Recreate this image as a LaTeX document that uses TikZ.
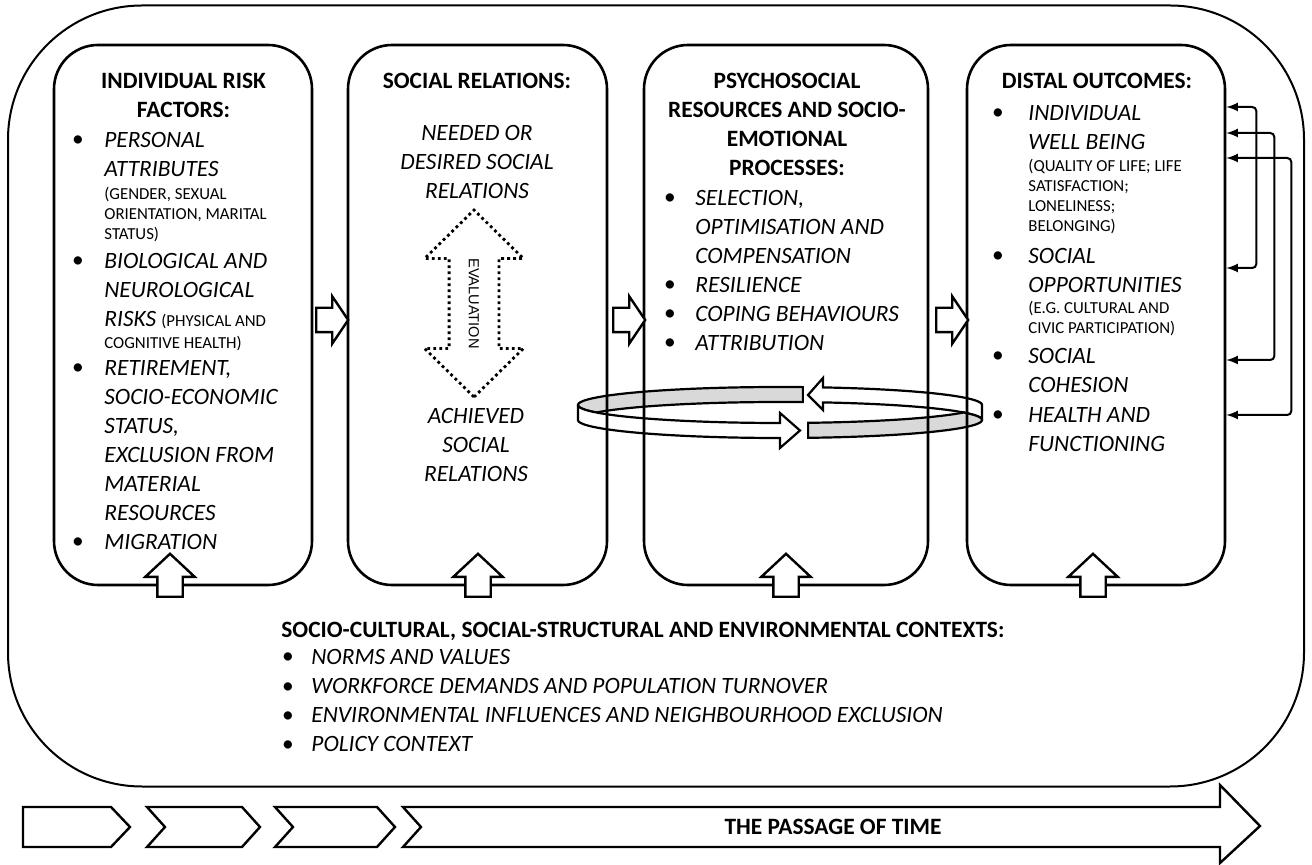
\documentclass[tikz,border=0pt]{standalone}
\usepackage{fontspec}
\setmainfont{Carlito}
\newfontfamily\evalfont{Liberation Sans}
\usepackage{tikz}
\usetikzlibrary{arrows,shapes.arrows}
\newcommand{\bigf}{\fontsize{11.7}{14.5}\selectfont}
\newcommand{\smf}{\fontsize{8.4}{10.1}\selectfont}

\begin{document}
\begin{tikzpicture}[x=0.5pt,y=-0.5pt,
  panel/.style={draw,line width=1.3pt,rounded corners=22pt,minimum width=129pt,minimum height=270pt},
  hd/.style={font=\bigf\bfseries,align=center,inner sep=0pt,anchor=north},
  itm/.style={font=\bigf\itshape,align=left,inner sep=0pt,anchor=north west},
  sm/.style={font=\smf,align=left,inner sep=0pt,anchor=north west},
  dot/.style={font=\bigf,inner sep=0pt,anchor=base},
  fat/.style={single arrow,draw,fill=white,line width=1.2pt,inner sep=0pt,text height=5.5pt,text depth=5.5pt,minimum height=16pt,single arrow head extend=5.75pt,single arrow tip angle=112,anchor=tail},
  up/.style={fat,rotate=90,minimum height=21.5pt,single arrow head extend=6pt,single arrow tip angle=94,text height=5.75pt,text depth=5.75pt},
  band/.style={draw,line width=1.1pt},
  chev/.style={draw,line width=1.2pt,fill=white},
  fbk/.style={latex-latex,line width=1pt,rounded corners=2pt}]
\useasboundingbox (0,0) rectangle (1312,865);

\node (world) at (656,396)[draw,line width=1pt,rounded corners=67pt,minimum width=648pt,minimum height=390.5pt] {};

\draw[band,fill=black!15] plot[domain=-83.5:-204.6,samples=60] ({780+202*cos(\x)},{405+18*sin(\x)}) -- plot[domain=-155.4:-83.5,samples=50] ({780+202*cos(\x)},{420+18*sin(\x)}) -- cycle;
\draw[band,fill=white] plot[domain=180:90,samples=50] ({780+202*cos(\x)},{405+18*sin(\x)}) -- (780,413) -- (800,430.5) -- (780,448) -- (780,438) -- plot[domain=90:180,samples=50] ({780+202*cos(\x)},{420+18*sin(\x)}) -- cycle;
\draw[band,fill=white] plot[domain=-77.7:0,samples=50] ({780+202*cos(\x)},{405+18*sin(\x)}) -- plot[domain=0:-77.7,samples=50] ({780+202*cos(\x)},{420+18*sin(\x)}) -- (823,410) -- (808,395) -- (823,378) -- cycle;
\draw[band,fill=black!15] plot[domain=82:-24.6,samples=60] ({780+202*cos(\x)},{420+18*sin(\x)}) -- plot[domain=24.6:82,samples=50] ({780+202*cos(\x)},{405+18*sin(\x)}) -- cycle;

\node (risk) at (183,315)[panel] {};
\node (rel) at (477.5,315)[panel,minimum width=129.5pt] {};
\node (psy) at (786,315)[panel,minimum width=142pt] {};
\node (dist) at (1096,315)[panel] {};

\node (riskhd) at (183.5,73)[hd] {INDIVIDUAL RISK\\FACTORS:};
\node (b11) at (78,147)[dot] {\textbullet};
\node (r1) at (104,132)[itm] {PERSONAL\\ATTRIBUTES};
\node (r1s) at (104,186.5)[sm] {(GENDER, SEXUAL\\ORIENTATION, MARITAL\\STATUS)};
\node (b12) at (78,268)[dot] {\textbullet};
\node (r2) at (104,253)[itm] {BIOLOGICAL AND\\NEUROLOGICAL\\RISKS {\upshape\smf (PHYSICAL AND}};
\node (r2s) at (104,335.5)[sm] {COGNITIVE HEALTH)};
\node (b13) at (78,375)[dot] {\textbullet};
\node (b14) at (78,549)[dot] {\textbullet};
\node (r3) at (104,360)[itm] {RETIREMENT,\\SOCIO-ECONOMIC\\STATUS,\\EXCLUSION FROM\\MATERIAL\\RESOURCES\\MIGRATION};

\node (relhd) at (477,73)[hd] {SOCIAL RELATIONS:};
\node (needed) at (477,125)[itm,anchor=north,align=center] {NEEDED OR\\DESIRED SOCIAL\\RELATIONS};
\node (eval) at (474,303.5)[double arrow,draw,rotate=-90,line width=1.4pt,dash pattern=on 1.4pt off 1.6pt,inner sep=0pt,text height=14.3pt,text depth=9.2pt,minimum height=93.5pt,double arrow head extend=12.25pt,double arrow tip angle=91,font=\evalfont\fontsize{7.3}{8}\selectfont] {EVALUATION};
\node (achieved) at (476,408)[itm,anchor=north,align=center] {ACHIEVED\\SOCIAL\\RELATIONS};

\node (psyhd) at (787,73)[hd] {PSYCHOSOCIAL\\RESOURCES AND SOCIO-\\EMOTIONAL\\PROCESSES:};
\node (b31) at (670,205)[dot] {\textbullet};
\node (b32) at (670,292)[dot] {\textbullet};
\node (b33) at (670,321)[dot] {\textbullet};
\node (b34) at (670,350)[dot] {\textbullet};
\node (p1) at (695,190)[itm] {SELECTION,\\OPTIMISATION AND\\COMPENSATION\\RESILIENCE\\COPING BEHAVIOURS\\ATTRIBUTION};

\node (disthd) at (1097,73)[hd] {DISTAL OUTCOMES:};
\node (b41) at (998,120)[dot] {\textbullet};
\node (d1) at (1028,105)[itm] {INDIVIDUAL\\WELL BEING};
\node (d1s) at (1028,158.5)[sm] {(QUALITY OF LIFE; LIFE\\SATISFACTION;\\LONELINESS;\\BELONGING)};
\node (b42) at (998,263)[dot] {\textbullet};
\node (d2) at (1028,248)[itm] {SOCIAL\\OPPORTUNITIES};
\node (d2s) at (1028,300.5)[sm] {(E.G. CULTURAL AND\\CIVIC PARTICIPATION)};
\node (b43) at (998,363)[dot] {\textbullet};
\node (d3) at (1028,348)[itm] {SOCIAL\\COHESION};
\node (b44) at (998,422)[dot] {\textbullet};
\node (d4) at (1028,407)[itm] {HEALTH AND\\FUNCTIONING};

\node (a12) at (315,320)[fat] {};
\node (a23) at (612,320)[fat] {};
\node (a34) at (935,320)[fat] {};
\node (u1) at (170,598)[up] {};
\node (u2) at (478,598)[up] {};
\node (u3) at (786,598)[up] {};
\node (u4) at (1093,598)[up] {};

\draw[fbk] ([yshift=104pt]dist.east) -- ++(15pt,0) |- ([yshift=23.5pt]dist.east);
\draw[fbk] ([yshift=91pt]dist.east) -- ++(24pt,0) |- ([yshift=-22.5pt]dist.east);
\draw[fbk] ([yshift=78.5pt]dist.east) -- ++(32.5pt,0) |- ([yshift=-50pt]dist.east);

\node (ctxhd) at (281,638)[font=\bigf\bfseries,inner sep=0pt,anchor=base west] {SOCIO-CULTURAL, SOCIAL-STRUCTURAL AND ENVIRONMENTAL CONTEXTS:};
\node (c1) at (288,664)[dot] {\textbullet};
\node (c2) at (288,693)[dot] {\textbullet};
\node (c3) at (288,722)[dot] {\textbullet};
\node (c4) at (288,751)[dot] {\textbullet};
\node (ctx) at (311,649)[itm] {NORMS AND VALUES\\WORKFORCE DEMANDS AND POPULATION TURNOVER\\ENVIRONMENTAL INFLUENCES AND NEIGHBOURHOOD EXCLUSION\\POLICY CONTEXT};

\draw[chev] (23,807) -- (111,807) -- (130,827) -- (111,847) -- (23,847) -- cycle;
\draw[chev] (147,807) -- (242,807) -- (260,827) -- (242,847) -- (147,847) -- (165,827) -- cycle;
\draw[chev] (275,807) -- (377,807) -- (395,827) -- (377,847) -- (275,847) -- (293,827) -- cycle;
\draw[chev] (403,807) -- (1220,807) -- (1220,785) -- (1260,826) -- (1220,863) -- (1220,847) -- (403,847) -- (421,827) -- cycle;
\node (time) at (833,827)[font=\bigf\bfseries] {THE PASSAGE OF TIME};
\end{tikzpicture}
\end{document}
